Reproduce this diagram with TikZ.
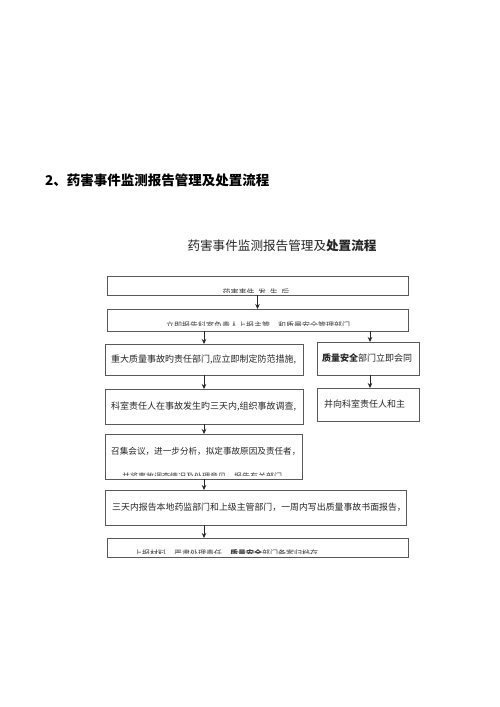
\documentclass[tikz,border=0pt]{standalone}
\usepackage{fontspec}
\setmainfont{Noto Sans CJK SC}
\usetikzlibrary{arrows.meta}
\tikzset{
  box/.style={draw=black!65, line width=0.8pt, inner sep=0pt, outer sep=0pt, rectangle},
  arr/.style={draw=black!85, line width=0.7pt, -{Stealth[length=5pt,width=4.5pt]}},
  txt/.style={anchor=west, inner sep=0pt, font=\fontsize{9}{11}\selectfont, text=black!85},
  cut/.style={inner sep=0pt, font=\fontsize{8}{10}\selectfont, text=black!75},
}
\begin{document}
\begin{tikzpicture}[x=1pt,y=-1pt]
\useasboundingbox[fill=white] (0,0) rectangle (500,707);
% headings
\node[anchor=west, inner sep=0pt, font=\bfseries\fontsize{13.5}{16}\selectfont] (h) at (45,180) {2、药害事件监测报告管理及处置流程};
\node[inner sep=0pt, font=\fontsize{12.6}{15}\selectfont, text=black!85] (t) at (282,246) {药害事件监测报告管理及\textbf{处置流程}};
% boxes
\node[box, minimum width=301pt, minimum height=19pt] (b1) at (257.5,285.5) {};
\node[box, minimum width=301pt, minimum height=22pt] (b2) at (257.5,320) {};
\node[box, minimum width=198pt, minimum height=31pt] (a1) at (204,359.5) {};
\node[box, minimum width=102pt, minimum height=33pt] (r1) at (368,358.5) {};
\node[box, minimum width=198pt, minimum height=35pt] (a2) at (204,406.5) {};
\node[box, minimum width=102pt, minimum height=33pt] (r2) at (368,404.5) {};
\node[box, minimum width=197pt, minimum height=45pt] (c) at (203.5,456.5) {};
\node[box, minimum width=301pt, minimum height=35pt] (d) at (255.5,507.5) {};
\node[box, minimum width=301pt, minimum height=19pt] (e) at (257.5,547.5) {};
% texts
\node[txt] (ta1) at ([xshift=6pt]a1.west) {重大质量事故旳责任部门,应立即制定防范措施,};
\node[txt] (tr1) at ([xshift=5pt]r1.west) {\textbf{质量安全}部门立即会同};
\node[txt] (ta2) at ([xshift=6pt]a2.west) {科室责任人在事故发生旳三天内,组织事故调查,};
\node[txt] (tr2) at ([xshift=7pt]r2.west) {并向科室责任人和主};
\node[txt, font=\fontsize{8.6}{11}\selectfont] (tc) at (111,451) {召集会议，进一步分析，拟定事故原因及责任者，};
\node[txt, font=\fontsize{8.9}{11}\selectfont] (td) at (112,507) {三天内报告本地药监部门和上级主管部门，一周内写出质量事故书面报告，};
% clipped texts
\begin{scope}
\clip (107,277) rectangle (408,292);
\node[cut] (tb1) at (256,292.5) {药害事件\ \ 发\ \ 生\ \ 后};
\end{scope}
\begin{scope}
\clip (107,310) rectangle (408,325);
\node[cut] (tb2) at (258,325.5) {立即报告科室负责人上报主管\quad 和质量安全管理部门};
\end{scope}
\begin{scope}
\clip (106,460) rectangle (301,475.5);
\node[cut] (tc2) at (202,476) {并将事故调查情况及处理意见\quad 报告有关部门};
\end{scope}
\begin{scope}
\clip (108,539) rectangle (407,553);
\node[cut] (te) at (226,553.5) {上报材料\quad 严肃处理责任，\textbf{质量安全}部门备案归档存};
\end{scope}
% arrows
\draw[arr] (b1.south) -- (b2.north);
\draw[arr] (b2.south -| a1.north) -- (a1.north);
\draw[arr] ([xshift=2pt]b2.south -| r1.north) -- ([xshift=2pt]r1.north);
\draw[arr] (a1.south) -- (a2.north);
\draw[arr] ([xshift=2pt]r1.south) -- ([xshift=2pt]r2.north);
\draw[arr] (a2.south) -- (c.north -| a2.south);
\draw[arr] (c.south -| a2.south) -- (d.north -| a2.south);
\draw[arr] (d.south -| a2.south) -- (e.north -| a2.south);
\end{tikzpicture}
\end{document}
